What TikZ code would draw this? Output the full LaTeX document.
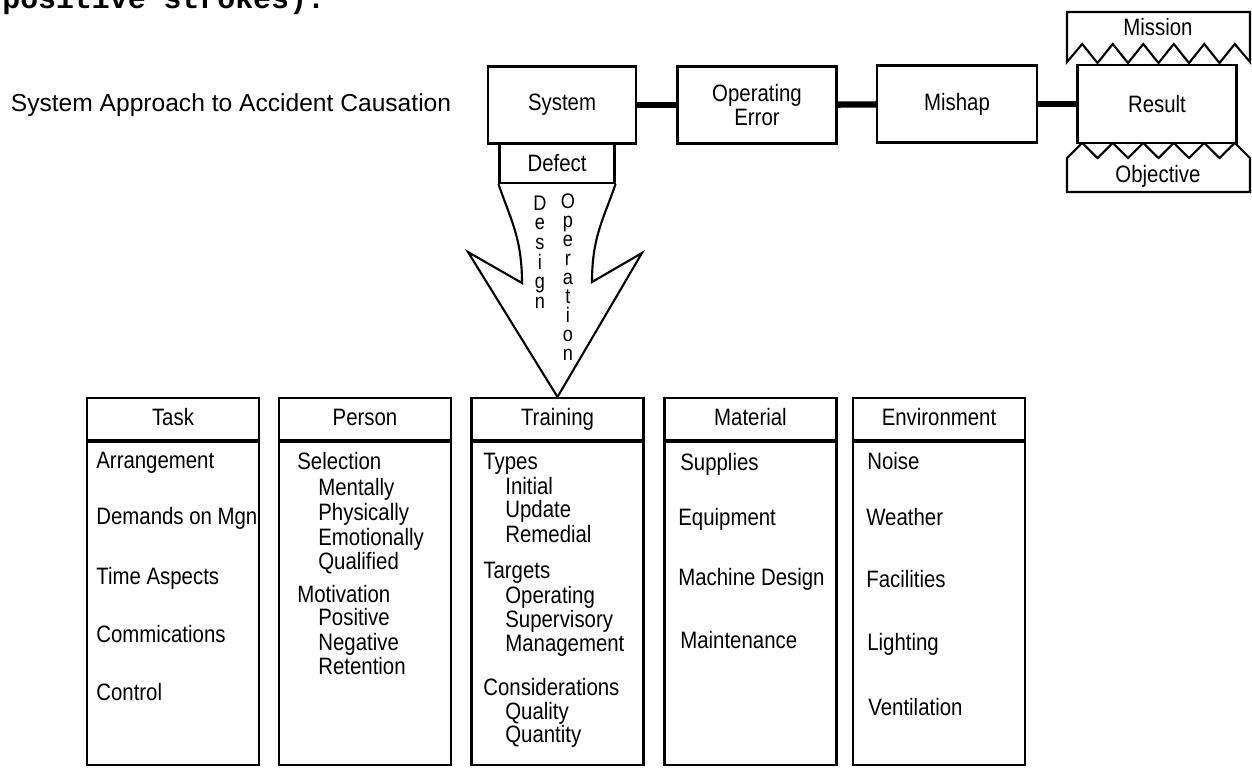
\documentclass[tikz,border=0pt]{standalone}
\usepackage{fontspec}
\setmainfont{Liberation Sans}[FakeStretch=0.86]
\newfontfamily\titlefont{Liberation Sans}
\newfontfamily\typewriter{Liberation Mono}
\usetikzlibrary{positioning}

\begin{document}
\begin{tikzpicture}[x=0.02cm, y=-0.02cm,
    txt/.style={font=\fontsize{13.5}{14}\selectfont, inner sep=0pt},
    box/.style={draw, line width=1.2pt, txt, align=center},
    link/.style={line width=3.6pt},
    item/.style={txt, anchor=base west},
    colhead/.style={box, minimum width=3.44cm, minimum height=0.84cm, text height=10pt, text depth=2.8pt},
    colbody/.style={draw, line width=1.2pt, minimum width=3.44cm, minimum height=6.46cm},
    upright/.style={txt, align=center, font=\fontsize{12}{#1}\selectfont}]
  \useasboundingbox (0,0) rectangle (1252,768);
  \clip (0,0) rectangle (1252,768);

  % text left over from the page above
  \node[anchor=base west, inner sep=0pt, font=\typewriter\bfseries\fontsize{17}{17}\selectfont] (fragment) at (2,8) {positive strokes).};
  \node[txt, font=\titlefont\fontsize{14}{16}\selectfont] (title) at (231,105) {System Approach to Accident Causation};

  % chain along the top
  \node[box, minimum width=2.96cm, minimum height=1.54cm] (system) at (562,105) {System};
  \node[box, minimum width=2.3cm, minimum height=0.8cm] (defect) at (557,163) {Defect};
  \node[box, minimum width=3.18cm, minimum height=1.54cm] (operr) at (757,105) {Operating\\Error};
  \node[box, minimum width=3.2cm, minimum height=1.54cm] (mishap) at (957,104) {Mishap};
  \node[box, minimum width=3.18cm, minimum height=1.56cm] (result) at (1157,104) {Result};
  \draw[link] (system) -- (operr);
  \draw[link] (operr) -- (mishap);
  \draw[link] (mishap) -- (result);

  % mission and objective mesh with the result
  \draw[line width=1.2pt] (1067,62) -- (1067,12) -- (1250,12) -- (1250,62)
    \foreach \k in {1,...,11} { -- ({1250-\k*183/12},{63-19*mod(\k,2)}) } -- cycle;
  \node[txt] (mission) at (1158,27) {Mission};
  \draw[line width=1.2pt] (1067,158) -- (1067,192) -- (1250,192) -- (1250,158)
    \foreach \k in {1,...,11} { -- ({1250-\k*183/12},{158-15*mod(\k,2)}) } -- cycle;
  \node[txt] (objective) at (1158,176) {Objective};

  % the five columns
  \node[colhead] (task) at (173,419) {Task};
  \node[colbody, below=0pt of task] (taskbody) {};
  \node[colhead] (person) at (365,419) {Person};
  \node[colbody, below=0pt of person] (personbody) {};
  \node[colhead] (training) at (557.5,419) {Training};
  \node[colbody, below=0pt of training] (trainingbody) {};
  \node[colhead] (material) at (750.5,419) {Material};
  \node[colbody, below=0pt of material] (materialbody) {};
  \node[colhead] (environment) at (939,419) {Environment};
  \node[colbody, below=0pt of environment] (environmentbody) {};

  \foreach \xx/\yy/\txt [count=\i] in {96/461/Arrangement, 96/517/Demands on Mgn,
      96/577/Time Aspects, 96/635/Commications, 96/693/Control}
    \node[item] (task\i) at (\xx,{\yy+7}) {\txt};
  \foreach \xx/\yy/\txt [count=\i] in {297/462/Selection, 318/488/Mentally,
      318/513/Physically, 318/538/Emotionally, 318/562/Qualified, 297/595/Motivation,
      318/618/Positive, 318/643/Negative, 318/667/Retention}
    \node[item] (person\i) at (\xx,{\yy+7}) {\txt};
  \foreach \xx/\yy/\txt [count=\i] in {483/462/Types, 505/487/Initial, 505/510/Update,
      505/535/Remedial, 483/571/Targets, 505/596/Operating, 505/620/Supervisory,
      505/644/Management, 483/688/Considerations, 505/712/Quality, 505/735/Quantity}
    \node[item] (training\i) at (\xx,{\yy+7}) {\txt};
  \foreach \xx/\yy/\txt [count=\i] in {680/463/Supplies, 678/518/Equipment,
      678/578/Machine Design, 680/641/Maintenance}
    \node[item] (material\i) at (\xx,{\yy+7}) {\txt};
  \foreach \xx/\yy/\txt [count=\i] in {867/462/Noise, 866/518/Weather,
      866/580/Facilities, 867/643/Lighting, 868/708/Ventilation}
    \node[item] (environment\i) at (\xx,{\yy+7}) {\txt};

  % big arrow from the defect down to training
  \coordinate (lbarb) at (468,252);
  \coordinate (linner) at (522,283);
  \coordinate (rbarb) at (642,253);
  \coordinate (rinner) at (592,282);
  \draw[line width=1.2pt] (defect.south west) .. controls +(12,35) and +(0,-45) .. (linner)
    -- (lbarb) -- (training.north) -- (rbarb) -- (rinner)
    .. controls +(0,-45) and +(-12,35) .. (defect.south east);
  \node[upright=11.2pt] (design) at (540,252) {D\\e\\s\\i\\g\\n};
  \node[upright=10.8pt] (operation) at (568,277) {O\\p\\e\\r\\a\\t\\i\\o\\n};
\end{tikzpicture}
\end{document}
